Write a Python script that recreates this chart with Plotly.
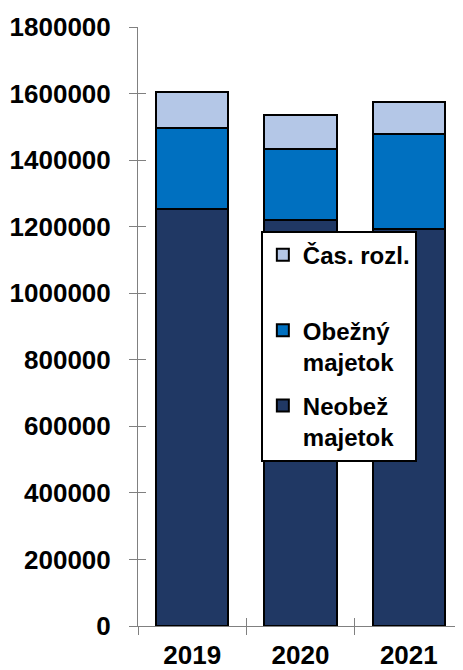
import plotly.graph_objects as go

years = ["2019", "2020", "2021"]
neobez = [1253000, 1219000, 1193000]
obezny = [244000, 215000, 285000]
cas = [108000, 102000, 98000]

names = ["Neobež<br>majetok", "Obežný<br>majetok", "Čas. rozl.<br> "]
colors = ["#203864", "#0070C0", "#B4C7E7"]
ranks = [3, 2, 1]
series = [neobez, obezny, cas]

FONT = "Liberation Sans, Arial, sans-serif"

fig = go.Figure()
for i, (nm, col, rk, vals) in enumerate(zip(names, colors, ranks, series)):
    fig.add_trace(go.Bar(
        x=years, y=vals, name=nm, legendgroup=f"g{i}", legendrank=rk,
        marker=dict(color=col, line=dict(color="black", width=2)),
        width=0.67,
    ))

n = len(years)
bounds = [i - 0.5 for i in range(n + 1)]

# page body has an 8px default margin, so the figure is sized to fit inside it
fig.update_layout(
    width=455, height=662,
    margin=dict(l=130, r=0, t=19, b=44),
    barmode="stack",
    plot_bgcolor="white", paper_bgcolor="white",
    font=dict(family=FONT, size=24, color="black"),
    showlegend=True,
    legend=dict(
        x=0.378, y=0.66, xanchor="left", yanchor="top",
        bgcolor="white", bordercolor="black", borderwidth=2,
        traceorder="grouped", tracegroupgap=10,
        valign="top",
        font=dict(family=FONT, size=24, color="black", weight="bold"),
    ),
    xaxis=dict(
        type="category", range=[-0.5, n - 0.5], automargin=False,
        showline=True, linecolor="#808080", linewidth=1,
        ticks="outside", ticklen=8, tickcolor="#808080", tickwidth=1,
        tickson="boundaries", showgrid=False, zeroline=False,
        tickfont=dict(family=FONT, size=26, color="black", weight="bold"),
        ticklabelstandoff=6,
    ),
    xaxis2=dict(
        overlaying="x", anchor="y", range=[-0.5, n - 0.5], automargin=False,
        tickmode="array", tickvals=bounds, showticklabels=False,
        ticks="inside", ticklen=8, tickcolor="#808080", tickwidth=1,
        showgrid=False, zeroline=False, showline=False,
    ),
    yaxis=dict(
        range=[0, 1800000], tickmode="linear", tick0=0, dtick=200000,
        automargin=False,
        showline=True, linecolor="#808080", linewidth=1,
        ticks="outside", ticklen=8, tickcolor="#808080", tickwidth=1,
        showgrid=False, zeroline=False, tickformat="d",
        tickfont=dict(family=FONT, size=26, color="black", weight="bold"),
        ticklabelstandoff=13,
    ),
    yaxis2=dict(
        overlaying="y", anchor="x", range=[0, 1800000], automargin=False,
        tickmode="linear", tick0=0, dtick=200000, showticklabels=False,
        ticks="inside", ticklen=8, tickcolor="#808080", tickwidth=1,
        showgrid=False, zeroline=False, showline=False,
    ),
)

# invisible trace to activate the overlay axes
fig.add_trace(go.Scatter(x=[bounds[0]], y=[0], xaxis="x2", yaxis="y2",
                         mode="markers", marker=dict(opacity=0),
                         showlegend=False, hoverinfo="skip"))

fig.write_html("out.html")
